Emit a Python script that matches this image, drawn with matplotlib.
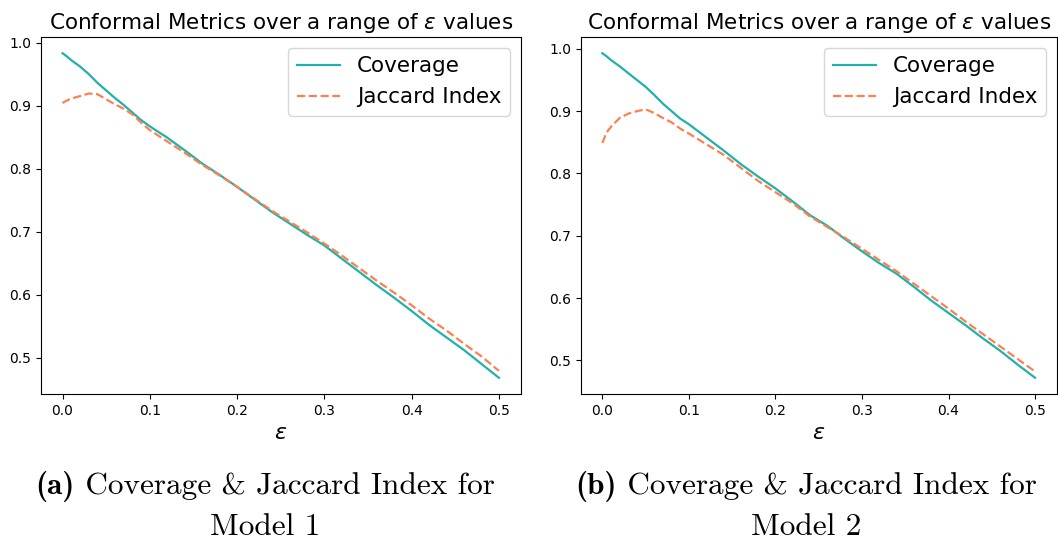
import matplotlib.pyplot as plt

# epsilon grid
eps = [0.0, 0.005, 0.01, 0.02, 0.03, 0.04, 0.05, 0.06, 0.07, 0.08, 0.09, 0.10,
       0.12, 0.14, 0.16, 0.18, 0.20, 0.22, 0.24, 0.26, 0.28, 0.30,
       0.32, 0.34, 0.36, 0.38, 0.40, 0.42, 0.44, 0.46, 0.48, 0.50]

# model 1
coverage_1 = [0.983, 0.978, 0.972, 0.962, 0.950, 0.936, 0.924, 0.912, 0.901, 0.889, 0.877, 0.867,
              0.849, 0.829, 0.808, 0.790, 0.771, 0.751, 0.731, 0.713, 0.695, 0.678,
              0.657, 0.636, 0.615, 0.595, 0.574, 0.552, 0.532, 0.512, 0.490, 0.468]
jaccard_1 = [0.904, 0.908, 0.911, 0.915, 0.919, 0.918, 0.910, 0.902, 0.895, 0.886, 0.873, 0.861,
             0.843, 0.825, 0.806, 0.789, 0.771, 0.752, 0.733, 0.716, 0.699, 0.681,
             0.662, 0.642, 0.622, 0.603, 0.583, 0.562, 0.543, 0.522, 0.502, 0.479]

# model 2
coverage_2 = [0.993, 0.988, 0.982, 0.972, 0.961, 0.950, 0.939, 0.926, 0.912, 0.900, 0.888, 0.879,
              0.858, 0.837, 0.815, 0.795, 0.776, 0.755, 0.733, 0.716, 0.695, 0.675,
              0.656, 0.639, 0.618, 0.596, 0.576, 0.556, 0.535, 0.515, 0.493, 0.472]
jaccard_2 = [0.849, 0.866, 0.875, 0.889, 0.896, 0.900, 0.903, 0.897, 0.889, 0.882, 0.872, 0.864,
             0.847, 0.830, 0.809, 0.788, 0.770, 0.752, 0.731, 0.714, 0.697, 0.679,
             0.661, 0.643, 0.623, 0.603, 0.583, 0.562, 0.542, 0.522, 0.502, 0.482]

tags = ['(a)', '(b)']
captions = ['Coverage & Jaccard Index for', 'Coverage & Jaccard Index for']
captions_2 = ['Model 1', 'Model 2']

W, H = 1058, 543
fig = plt.figure(figsize=(W / 100, H / 100), dpi=100)
ax1 = fig.add_axes([40.7 / W, 1 - 394 / H, 480 / W, 357 / H])
ax2 = fig.add_axes([580.7 / W, 1 - 394 / H, 476 / W, 357 / H])
renderer = fig.canvas.get_renderer()

for i, (ax, cov, jac, cx) in enumerate([(ax1, coverage_1, jaccard_1, 265),
                                        (ax2, coverage_2, jaccard_2, 806)]):
    ax.plot(eps, cov, color='lightseagreen', linewidth=1.6, label='Coverage')
    ax.plot(eps, jac, color='coral', linewidth=1.6, linestyle='--', label='Jaccard Index')
    ax.set_title(r'Conformal Metrics over a range of $\epsilon$ values', fontsize=15.5)
    ax.set_xlabel(r'$\epsilon$', fontsize=16)
    ax.tick_params(labelsize=10)
    ax.legend(loc='upper right', fontsize=15.5)

    # caption: bold tag + roman text, centred as one line
    t1 = fig.text(0, 1 - 486 / H, tags[i], ha='left', va='center', fontsize=22.5, family='cmb10')
    t2 = fig.text(0, 1 - 486 / H, ' ' + captions[i], ha='left', va='center', fontsize=22.5,
                  family='cmr10')
    w1 = t1.get_window_extent(renderer).width
    w2 = t2.get_window_extent(renderer).width
    x0 = cx - (w1 + w2) / 2
    t1.set_x(x0 / W)
    t2.set_x((x0 + w1) / W)
    fig.text(cx / W, 1 - 527 / H, captions_2[i], ha='center', va='center', fontsize=22.5,
             family='cmr10')

fig.savefig('out.png', dpi=100)
